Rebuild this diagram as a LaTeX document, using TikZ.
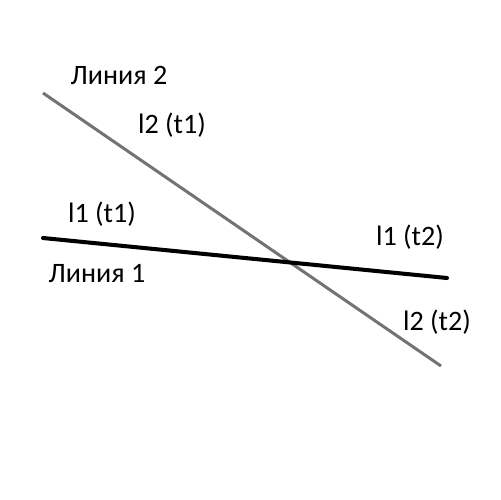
\documentclass[tikz,border=0pt]{standalone}
\usepackage{fontspec}
\setmainfont{Carlito}
\begin{document}
\begin{tikzpicture}[x=0.02cm,y=-0.02cm,
  lbl/.style={font=\fontsize{16}{19}\selectfont, inner sep=0pt, anchor=center},
  blackline/.style={line width=2.3pt, black, line cap=round},
  grayline/.style={line width=1.7pt, color={rgb,255:red,115;green,115;blue,115}}]
\useasboundingbox (0,0) rectangle (500,500);
\coordinate (b1) at (43,238);
\coordinate (b2) at (447,278);
\coordinate (g1) at (43,93);
\coordinate (g2) at (441,366);
\draw[grayline] (g1) -- (g2);
\draw[blackline] (b1) -- (b2);
\node[lbl] (lin2) at (119,75) {Линия 2};
\node[lbl] (l2t1) at (172,125) {l2 (t1)};
\node[lbl] (l1t1) at (102,214) {l1 (t1)};
\node[lbl] (lin1) at (97,274) {Линия 1};
\node[lbl] (l1t2) at (410,237) {l1 (t2)};
\node[lbl] (l2t2) at (437,322) {l2 (t2)};
\end{tikzpicture}
\end{document}
